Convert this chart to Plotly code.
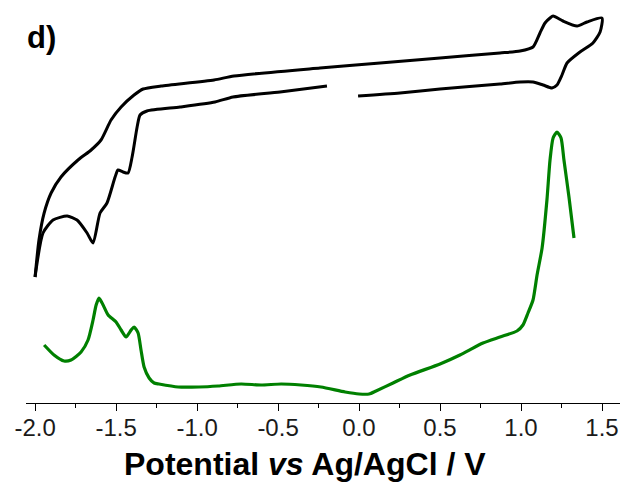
import plotly.graph_objects as go

# Cyclic voltammogram (black), potential in V vs Ag/AgCl, current in arbitrary units.
# The scan starts at -2.0 V, runs to +1.5 V along the upper branch and returns;
# a short stretch of the return branch near -0.1 V has no data.
cv_potential = [
    -2.0, -1.976, -1.944, -1.901, -1.840, -1.735, -1.654, -1.593, -1.531, -1.469,
    -1.389, -1.333, -1.222, -0.895, -0.772, -0.241, 0.130, 0.500, 0.870, 0.994,
    1.074, 1.117, 1.148, 1.179, 1.198, 1.259, 1.346, 1.407, 1.5,
    1.488, 1.444, 1.364, 1.284, 1.253, 1.222, 1.191, 1.136, 1.074, 0.994, 0.870,
    0.500, 0.253, -0.006,
    None,
    -0.198, -0.488, -0.778, -0.889, -1.105, -1.309, -1.352, -1.370, -1.401, -1.426,
    -1.457, -1.488, -1.506, -1.556, -1.599, -1.642, -1.679, -1.741, -1.802, -1.889,
    -1.951, -2.0,
]
cv_current = [
    126, 163, 190, 210, 226, 243, 253, 263, 283, 296,
    308, 314, 317, 323, 327, 335, 340, 345, 350, 352,
    356, 370, 380, 385, 387, 382, 377, 381, 385,
    371, 360, 351, 340, 328, 318, 315, 318, 321, 321, 319,
    314, 310, 307,
    None,
    317, 311, 306, 301, 296, 292, 288, 276, 246, 230,
    231, 233, 226, 200, 190, 160, 170, 183, 187, 183,
    170, 126,
]

# Second voltammetric trace (green), offset below the CV
dpv_potential = [
    -1.944, -1.883, -1.821, -1.778, -1.716, -1.673, -1.642, -1.623, -1.605, -1.580,
    -1.549, -1.500, -1.469, -1.438, -1.407, -1.389, -1.364, -1.346, -1.327, -1.296,
    -1.265, -1.235, -1.117, -0.988, -0.870, -0.728, -0.605, -0.481, -0.358, -0.235,
    -0.086, 0.000, 0.062, 0.105, 0.210, 0.315, 0.500, 0.623, 0.765, 0.870, 0.975,
    1.012, 1.043, 1.074, 1.099, 1.130, 1.160, 1.179, 1.198, 1.222, 1.247,
    1.265, 1.296, 1.327,
]
dpv_current = [
    58, 48, 42, 43, 51, 63, 83, 98, 105, 98,
    88, 81, 73, 66, 73, 76, 70, 53, 36, 25,
    20, 19, 16, 16, 17, 19, 18, 19, 18, 16,
    11, 9, 9, 12, 20, 28, 39, 48, 60, 66, 72,
    78, 90, 103, 128, 155, 203, 243, 265, 271, 265,
    243, 206, 165,
]

tick_values = [-2.0, -1.5, -1.0, -0.5, 0.0, 0.5, 1.0, 1.5]
tick_labels = ["-2.0", "-1.5", "-1.0", "-0.5", "0.0", "0.5", "1.0", "1.5"]

fig = go.Figure()
fig.add_trace(go.Scatter(
    x=cv_potential, y=cv_current, mode="lines",
    line=dict(color="black", width=3, shape="spline", smoothing=0.6),
    connectgaps=False, hoverinfo="skip", showlegend=False,
))
fig.add_trace(go.Scatter(
    x=dpv_potential, y=dpv_current, mode="lines",
    line=dict(color="#008000", width=3.2, shape="spline", smoothing=0.6),
    hoverinfo="skip", showlegend=False,
))

fig.update_layout(
    width=626, height=485,
    margin=dict(l=26, r=6, t=0, b=82),
    paper_bgcolor="white", plot_bgcolor="white",
    font=dict(family="Liberation Sans, Arial, sans-serif", color="#1a1a1a"),
    xaxis=dict(
        range=[-2.056, 1.611],
        tickvals=tick_values, ticktext=tick_labels,
        ticks="outside", ticklen=7, tickwidth=1, tickcolor="black",
        minor=dict(dtick=0.25, tick0=0, ticks="outside", ticklen=4,
                   tickwidth=1, tickcolor="black"),
        showline=True, linecolor="black", linewidth=1,
        showgrid=False, zeroline=False,
        tickfont=dict(size=24, color="#1a1a1a"),
        ticklabelstandoff=-4,
    ),
    yaxis=dict(range=[0, 403], visible=False, showgrid=False, zeroline=False),
    annotations=[
        dict(
            text="<b>d)</b>", xref="paper", yref="paper",
            x=-0.002, y=1 - 18 / 403, xanchor="left", yanchor="top",
            showarrow=False, font=dict(size=31, color="black"),
        ),
        dict(
            text="<b>Potential <i>vs</i> Ag/AgCl / V</b>",
            xref="paper", yref="paper",
            x=(305 - 26) / 594, y=(403 - 464) / 403,
            xanchor="center", yanchor="middle",
            showarrow=False, font=dict(size=32, color="black"),
        ),
    ],
)

fig.write_html("out.html")
